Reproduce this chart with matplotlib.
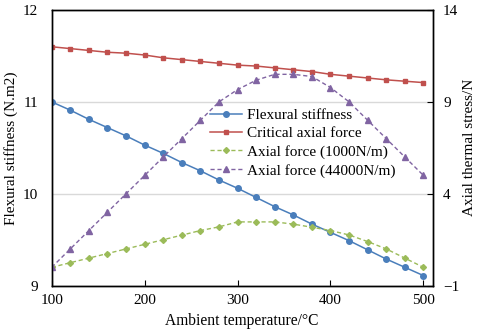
import matplotlib
matplotlib.use("Agg")
import matplotlib.pyplot as plt

plt.rcParams['font.family'] = ['Liberation Serif', 'DejaVu Serif']

temperature = [100, 120, 140, 160, 180, 200, 220, 240, 260, 280, 300,
               320, 340, 360, 380, 400, 420, 440, 460, 480, 500]
flexural_stiffness = [11.00, 10.91, 10.81, 10.72, 10.63, 10.53, 10.44, 10.34, 10.25, 10.15, 10.06,
                      9.96, 9.86, 9.77, 9.67, 9.58, 9.49, 9.39, 9.29, 9.20, 9.11]
critical_axial_force = [11.60, 11.58, 11.56, 11.54, 11.53, 11.51, 11.48, 11.46, 11.44, 11.42, 11.40,
                        11.39, 11.37, 11.35, 11.33, 11.30, 11.28, 11.26, 11.24, 11.225, 11.21]
axial_force_1000 = [0.0, 0.25, 0.5, 0.75, 1.0, 1.25, 1.5, 1.75, 2.0, 2.2, 2.47,
                    2.47, 2.47, 2.35, 2.18, 2.0, 1.76, 1.4, 1.0, 0.5, 0.0]
axial_force_44000 = [0.0, 1.0, 2.0, 3.0, 4.0, 5.0, 6.0, 7.0, 8.0, 9.0, 9.67,
                     10.18, 10.5, 10.5, 10.38, 9.78, 9.0, 8.0, 7.0, 6.0, 5.0]

labels = ['Flexural stiffness', 'Critical axial force',
          'Axial force (1000N/m)', 'Axial force (44000N/m)']

c_blue = '#4A7EBB'
c_red = '#C0504D'
c_green = '#9BBB59'
c_purple = '#8064A2'

fig = plt.figure(figsize=(4.8, 3.32), dpi=100)
ax = fig.add_axes([0.1077, 0.1395, 0.9015 - 0.1077, 0.9699 - 0.1395])
ax2 = ax.twinx()

l1, = ax.plot(temperature, flexural_stiffness, color=c_blue, lw=1.1, marker='o', ms=4, label=labels[0])
l2, = ax.plot(temperature, critical_axial_force, color=c_red, lw=1.1, marker='s', ms=3.5, label=labels[1])
l3, = ax2.plot(temperature, axial_force_1000, color=c_green, lw=1.0, ls=(0, (3, 2)), marker='D', ms=3, label=labels[2])
l4, = ax2.plot(temperature, axial_force_44000, color=c_purple, lw=1.0, ls=(0, (3, 2)), marker='^', ms=4, label=labels[3])

ax.set_xlim(100, 510)
ax.set_ylim(9, 12)
ax2.set_ylim(-1, 14)
ax.set_xticks([100, 200, 300, 400, 500])
ax.set_yticks([9, 10, 11, 12])
ax2.set_yticks([-1, 4, 9, 14])
ax.yaxis.grid(True, color='#D9D9D9', lw=1)
ax.set_axisbelow(True)

for a in (ax, ax2):
    for s in a.spines.values():
        s.set_color('#000000')
        s.set_linewidth(1.0)
ax.tick_params(axis='x', direction='in', length=4, labelsize=11, pad=6, color='black')
ax.tick_params(axis='y', direction='in', length=0, labelsize=11, pad=10)
ax2.tick_params(axis='y', direction='in', length=4, labelsize=11, pad=7.5)

ax.set_xlabel('Ambient temperature/°C', fontsize=11.2, labelpad=4)
ax.set_ylabel('Flexural stiffness (N.m2)', fontsize=11)
ax2.set_ylabel('Axial thermal stress/N', fontsize=11)
ax.yaxis.set_label_coords(-0.088, 0.5)
ax2.yaxis.set_label_coords(1.08, 0.5)

leg = ax.legend(handles=[l1, l2, l3, l4], loc='upper left', bbox_to_anchor=(0.40, 0.665),
                frameon=False, fontsize=11, handlelength=2.1, handletextpad=0.3,
                labelspacing=0.3, borderaxespad=0)

fig.savefig('out.png', dpi=100)
